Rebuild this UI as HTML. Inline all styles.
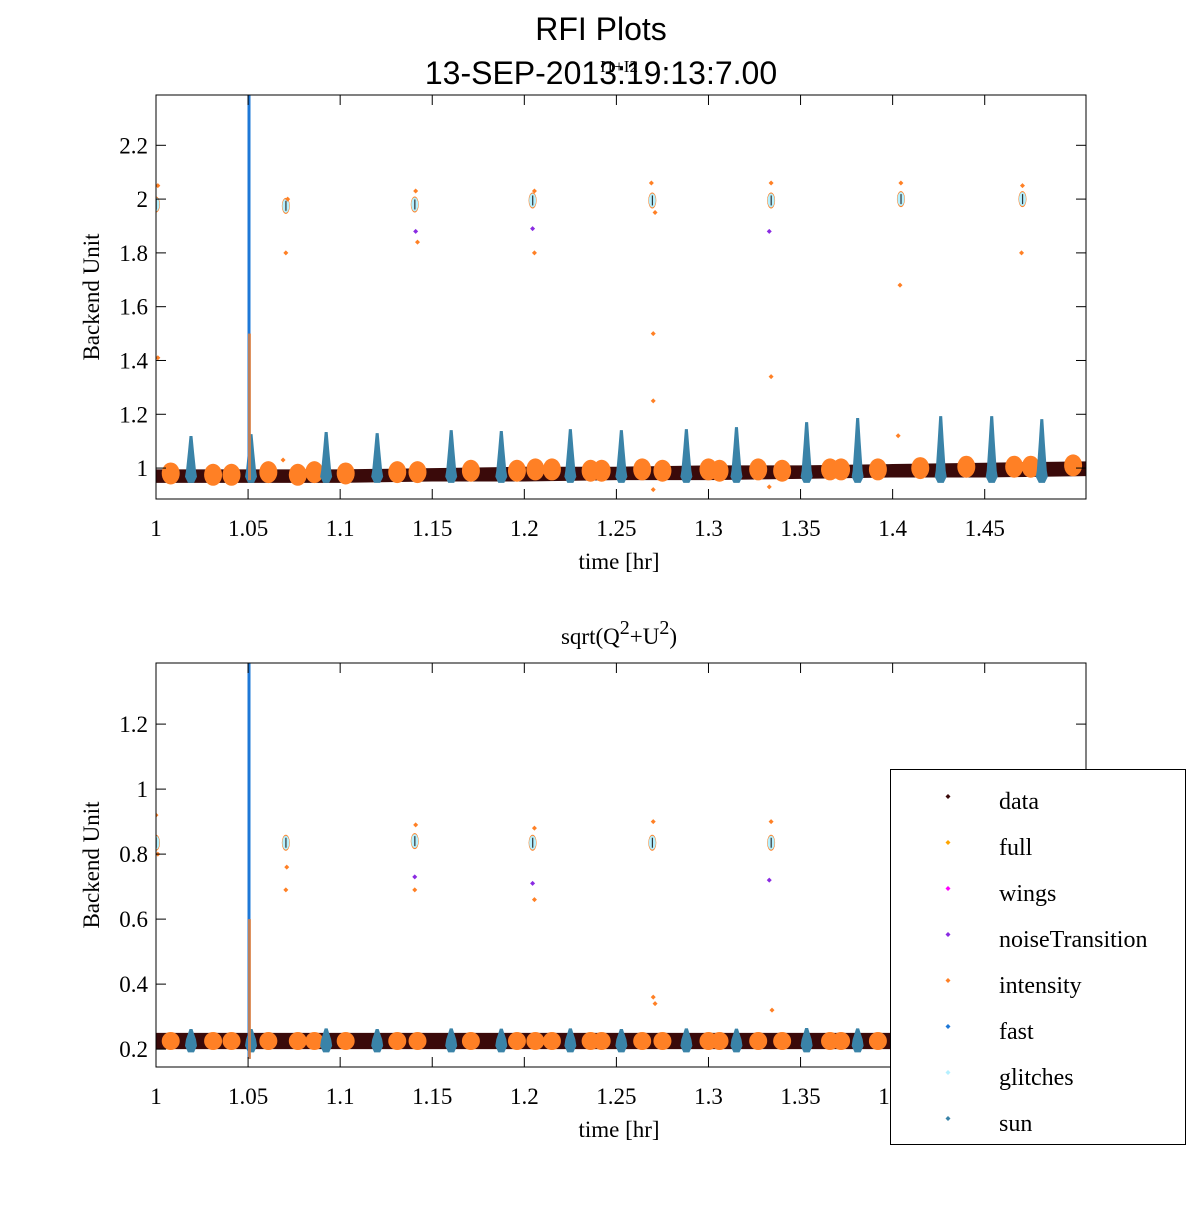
<!DOCTYPE html>
<html><head><meta charset="utf-8"><style>
body{margin:0;background:#fff;width:1200px;height:1200px;overflow:hidden}
svg text{font-family:"Liberation Serif",serif}
</style></head><body>
<svg id="c" width="1200" height="1200" xmlns="http://www.w3.org/2000/svg">
<rect width="1200" height="1200" fill="#fff"/>
<text x="601" y="40" font-size="32" text-anchor="middle" style="font-family:'Liberation Sans',sans-serif">RFI Plots</text>
<text x="601" y="84" font-size="32" text-anchor="middle" style="font-family:'Liberation Sans',sans-serif">13-SEP-2013:19:13:7.00</text>
</svg>
<script>
// ---- data ----
const xTicks=[1,1.05,1.1,1.15,1.2,1.25,1.3,1.35,1.4,1.45];
const xTickLabels=["1","1.05","1.1","1.15","1.2","1.25","1.3","1.35","1.4","1.45"];
const yTicksTop=[1,1.2,1.4,1.6,1.8,2,2.2];
const yTickLabelsTop=["1","1.2","1.4","1.6","1.8","2","2.2"];
const yTicksBot=[0.2,0.4,0.6,0.8,1,1.2];
const yTickLabelsBot=["0.2","0.4","0.6","0.8","1","1.2"];
const sunTop=[1.119,1.126,1.134,1.130,1.141,1.138,1.145,1.141,1.145,1.152,1.171,1.186,1.193,1.193,1.182];
const sunX=[1.019,1.0516,1.0924,1.1201,1.1603,1.1875,1.2250,1.2527,1.2880,1.3152,1.3533,1.3810,1.4261,1.4538,1.4810];
const sunBotTop=[0.262,0.262,0.264,0.262,0.264,0.263,0.264,0.262,0.264,0.263,0.265,0.264,0.265,0.265,0.264];
const bandX=[1,1.05,1.1,1.15,1.2,1.25,1.3,1.35,1.4,1.45,1.505];
const bandLoTop=[0.945,0.945,0.945,0.95,0.95,0.955,0.955,0.96,0.965,0.965,0.97];
const bandHiTop=[0.995,0.995,0.995,1.0,1.005,1.005,1.01,1.01,1.015,1.02,1.025];
const bandLoBot=[0.2,0.2,0.2,0.2,0.2,0.2,0.2,0.2,0.2,0.2,0.2];
const bandHiBot=[0.25,0.25,0.25,0.25,0.25,0.25,0.25,0.25,0.25,0.25,0.25];
const blobX=[1.008,1.031,1.041,1.061,1.077,1.086,1.103,1.131,1.142,1.171,1.196,1.206,1.215,1.236,1.242,1.264,1.275,1.300,1.306,1.327,1.340,1.366,1.372,1.392,1.415,1.440,1.466,1.475,1.498];
const blobTop=[0.98,0.975,0.975,0.985,0.975,0.985,0.98,0.985,0.985,0.99,0.99,0.995,0.995,0.99,0.99,0.995,0.99,0.995,0.99,0.995,0.99,0.995,0.995,0.995,1.0,1.005,1.005,1.005,1.01];
const clusterX=[1.0,1.0705,1.1405,1.2045,1.2695,1.334,1.4045,1.4705];
const clusterTop=[1.98,1.975,1.98,1.995,1.995,1.995,2.0,2.0];
const clusterBotX=[1.0,1.0705,1.1405,1.2045,1.2695,1.334];
const clusterBot=[0.835,0.835,0.84,0.835,0.835,0.835];
const outX=[1.001,1.001,1.0705,1.0715,1.142,1.141,1.2055,1.2055,1.27,1.27,1.269,1.27,1.334,1.333,1.404,1.4045,1.403,1.47,1.4705,1.069,1.271,1.334];
const outTop=[2.05,1.41,1.8,2.0,1.84,2.03,1.8,2.03,1.5,1.25,2.06,0.92,1.34,0.93,1.68,2.06,1.12,1.8,2.05,1.03,1.95,2.06];
const ntX=[1.141,1.2045,1.333];
const ntTop=[1.88,1.89,1.88];
const outBotX=[1.0,1.001,1.0705,1.071,1.1405,1.141,1.2055,1.2055,1.270,1.270,1.271,1.334,1.3345];
const outBot=[0.92,0.80,0.69,0.76,0.69,0.89,0.66,0.88,0.36,0.90,0.34,0.90,0.32];
const ntBotX=[1.1405,1.2045,1.333];
const ntBot=[0.73,0.71,0.72];
const fastX=1.0505;
const legendNames=["data","full","wings","noiseTransition","intensity","fast","glitches","sun"];
const legendColors=["#3a0a0a","#ffa500","#ff00ff","#8a2be2","#ff8025","#1e78d7","#b4f0ff","#3a83a8"];

const NS="http://www.w3.org/2000/svg";
const svg=document.getElementById('c');
function el(tag,attrs,parent){const e=document.createElementNS(NS,tag);for(const k in attrs)e.setAttribute(k,attrs[k]);(parent||svg).appendChild(e);return e;}

function makePanel(cfg){
  const {top,bot,ymin,ymax,name}=cfg;
  const L=156,R=1086;
  const X=t=>L+(t-1)/(1.505-1)*(R-L);
  const Y=v=>bot-(v-ymin)/(ymax-ymin)*(bot-top);
  const g=el('g',{});
  
  
  const clipId='clip-'+name;
  const cp=el('clipPath',{id:clipId},g);el('rect',{x:L,y:top,width:R-L,height:bot-top},cp);
  const plot=el('g',{'clip-path':'url(#'+clipId+')'},g);
  
  
  let pts=bandX.map((t,i)=>X(t)+','+Y(cfg.lo[i])).concat(bandX.slice().reverse().map((t,i)=>X(t)+','+Y(cfg.hi[bandX.length-1-i])));
  const band=el('polygon',{points:pts.join(' '),fill:'#3a0a0a'},plot);
  
  
  blobX.forEach((t,i)=>{
    const v=cfg.blobs[i];
    const e=el('ellipse',{cx:X(t),cy:Y(v),rx:9,ry:cfg.blobRy,fill:'#ff8025'},plot);
    
    
  });
  sunX.forEach((t,i)=>{
    const x=X(t),yt=Y(cfg.sunTop[i]),yb=Y(cfg.sunBase);
    const base=Y(cfg.sunLow);
    const ym=yt+(yb-yt)*0.45;
    const d=`M${x-1.5},${yt} L${x+1.5},${yt} L${x+3},${ym} L${x+5},${yb} L${x+6},${(yb+base)/2} L${x+3},${base} L${x-3},${base} L${x-6},${(yb+base)/2} L${x-5},${yb} L${x-3},${ym}Z`;
    const p=el('path',{d,fill:'#3a83a8'},plot);
    
    
  });
  const f=el('rect',{x:X(fastX)-1.5,y:top,width:3,height:Y(cfg.fastLow)-top,fill:'#1e78d7'},plot);
  
  
  const f2=el('rect',{x:X(fastX)-1,y:Y(cfg.fastOrangeTop),width:3,height:Y(cfg.fastLow)-Y(cfg.fastOrangeTop),fill:'#ff8025',opacity:0.7},plot);
  
  
  cfg.clX.forEach((t,i)=>{
    const v=cfg.clY[i];
    const e1=el('ellipse',{cx:X(t),cy:Y(v),rx:4,ry:8,fill:'#ff8025'},plot);
    
    
    const e2=el('ellipse',{cx:X(t),cy:Y(v),rx:3.5,ry:7,fill:'#b4f0ff'},plot);
    
    
    const e3=el('rect',{x:X(t)-0.5,y:Y(v)-5,width:1.2,height:10,fill:'#333'},plot);
    
    
  });
  const dia=(x,y,c,nm)=>{const p=el('path',{d:`M${x},${y-2.5} L${x+2.5},${y} L${x},${y+2.5} L${x-2.5},${y}Z`,fill:c},plot);};
  cfg.oX.forEach((t,i)=>dia(X(t),Y(cfg.oY[i]),'#ff8025','intensity-outlier'));
  cfg.nX.forEach((t,i)=>dia(X(t),Y(cfg.nY[i]),'#8a2be2','noise-transition-point'));
  const fr=el('rect',{x:L,y:top,width:R-L,height:bot-top,fill:'none',stroke:'#000','stroke-width':1},g);
  
  
  xTicks.forEach((t,i)=>{
    const x=X(t);
    el('line',{x1:x,x2:x,y1:bot,y2:bot-10,stroke:'#000'},g);
    el('line',{x1:x,x2:x,y1:top,y2:top+10,stroke:'#000'},g);
    const tx=el('text',{x:x,y:bot+37,'font-size':23,'text-anchor':'middle'},g);
    tx.textContent=xTickLabels[i];
    
    
  });
  cfg.yt.forEach((v,i)=>{
    const y=Y(v);
    el('line',{x1:L,x2:L+10,y1:y,y2:y,stroke:'#000'},g);
    el('line',{x1:R,x2:R-10,y1:y,y2:y,stroke:'#000'},g);
    const tx=el('text',{x:L-8,y:y+8,'font-size':23,'text-anchor':'end'},g);
    tx.textContent=cfg.ytl[i];
    
    
  });
  const xl=el('text',{x:619,y:bot+70,'font-size':23,'text-anchor':'middle'},g);
  xl.textContent='time [hr]';
  
  
  const yl=el('text',{x:0,y:0,'font-size':23,'text-anchor':'middle',transform:`translate(99,${(top+bot)/2}) rotate(-90)`},g);
  yl.textContent='Backend Unit';
  
  
}

makePanel({name:'top',top:95,bot:499,ymin:0.885,ymax:2.387,lo:bandLoTop,hi:bandHiTop,blobs:blobTop,blobRy:11,
  sunTop:sunTop,sunBase:0.99,sunLow:0.945,fastLow:0.955,fastOrangeTop:1.5,
  clX:clusterX,clY:clusterTop,oX:outX,oY:outTop,nX:ntX,nY:ntTop,yt:yTicksTop,ytl:yTickLabelsTop});
makePanel({name:'bottom',top:663,bot:1067,ymin:0.145,ymax:1.388,lo:bandLoBot,hi:bandHiBot,blobs:blobX.map(()=>0.225),blobRy:9,
  sunTop:sunBotTop,sunBase:0.23,sunLow:0.19,fastLow:0.17,fastOrangeTop:0.6,
  clX:clusterBotX,clY:clusterBot,oX:outBotX,oY:outBot,nX:ntBotX,nY:ntBot,yt:yTicksBot,ytl:yTickLabelsBot});

const s1=el('text',{x:619,y:72,'font-size':17,'text-anchor':'middle'});
s1.textContent='I1+I2';


const s2=el('text',{x:619,y:644,'font-size':23,'text-anchor':'middle'});
s2.innerHTML='sqrt(Q<tspan dy="-10" font-size="20">2</tspan><tspan dy="10">+U</tspan><tspan dy="-10" font-size="20">2</tspan><tspan dy="10">)</tspan>';



const lg=el('g',{});


el('rect',{x:890.5,y:769.5,width:295,height:375,fill:'#fff',stroke:'#000'},lg);
legendNames.forEach((n,i)=>{
  const y=801+i*46;
  const e=el('g',{},lg);
  
  
  el('path',{d:`M948,${y-7} L950.5,${y-4.5} L948,${y-2} L945.5,${y-4.5}Z`,fill:legendColors[i]},e);
  const t=el('text',{x:999,y:y+8,'font-size':24},e);
  t.textContent=n;
});
</script>
</body></html>
